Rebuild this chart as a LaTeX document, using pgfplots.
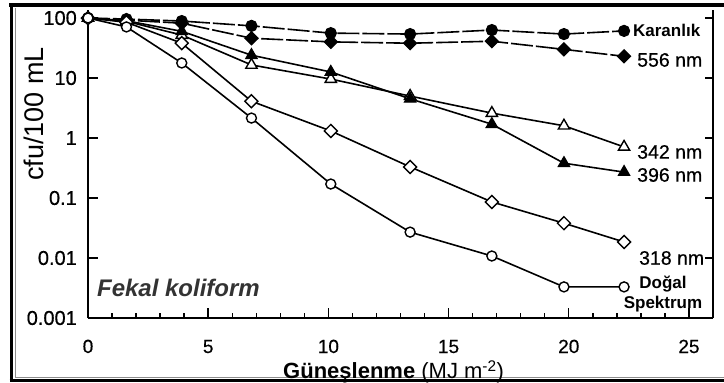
\documentclass[border=0pt]{standalone}
\usepackage{pgfplots}
\usepackage{pgfplotstable}
\pgfplotsset{compat=1.18}
\usepackage{fontspec}
\setmainfont{Liberation Sans}
\newfontfamily\heavy{Liberation Sans}[FakeBold=0.5]

% Survival of faecal coliforms versus cumulative insolation
\pgfplotstableread{
x    dark  g556  g342  g396  g318    sun
0    100   100   100   100   100     100
1.6  96    92    88    90    85      71
3.9  89    82    52    60    38      17.8
6.8  74    46    16.5  24    4.1     2.15
10.1 56    40    9.6   12.6  1.31    0.171
13.4 54    38    5.0   4.5   0.33    0.027
16.8 63    41    2.6   1.7   0.086   0.0108
19.8 54    30    1.6   0.38  0.038   0.0033
22.3 61    23    0.71  0.27  0.0185  0.0033
}\coliform

\newcommand{\fs}[1]{\fontsize{#1bp}{#1bp}\selectfont}

\begin{document}
\begin{tikzpicture}
\path[use as bounding box] (0,0) rectangle (724bp,383bp);
\fill[white] (0,0) rectangle (724bp,383bp);
% frame around the figure
\draw[black, line width=4bp] (9bp,377.5bp) -- (724bp,377.5bp);
\draw[black, line width=3bp] (11bp,379bp) -- (11bp,1bp);
\draw[black, line width=3bp] (9.5bp,2bp) -- (724bp,2bp);
\draw[black!45, line width=0.8bp] (15bp,375bp) -- (15bp,6bp) -- (724bp,6bp);

\begin{axis}[
  at={(88bp,65bp)}, anchor=south west,
  scale only axis, width=625bp, height=308bp,
  xmin=0, xmax=26, ymode=log, ymin=0.001, ymax=136,
  axis line style={line width=1.8bp, black},
  tick style={line width=1.4bp, black},
  tick align=inside,
  ytick={0.001,0.01,0.1,1,10,100},
  yminorticks=false,
  clip=false,
  /pgf/number format/assume math mode=true,
  axis x line*=bottom, axis y line*=left,
  major tick length=10bp, minor tick length=5bp,
  xtick={0,5,10,15,20,25}, xticklabels={0,5,10,15,20,25},
  minor x tick num=4,
  yticklabels={0.001,0.01,0.1,1,10,100},
  xticklabel style={inner sep=0pt, anchor=base, yshift=-35bp, font=\heavy\fs{19}},
  yticklabel style={inner sep=0pt, anchor=east, xshift=-11bp, font=\heavy\fs{20}},
  every axis y label/.style={at={(axis description cs:0,0.662)}, xshift=-54bp,
    rotate=90, anchor=center, font=\fs{27}},
  every axis x label/.style={at={(axis description cs:0.312,0)}, yshift=-54bp,
    anchor=west, inner sep=0pt, font=\fs{22}},
  ylabel={cfu/100 mL},
  xlabel={\textbf{Güneşlenme} (MJ m\textsuperscript{-2})},
  every axis plot/.append style={line width=1.6bp, black},
]
\addplot[dash pattern=on 22bp off 3bp, mark=*, mark size=5.5bp,
  mark options={solid, fill=black, line width=1.2bp}] table[x=x, y=dark]{\coliform};
\addplot[dash pattern=on 22bp off 3bp, mark=square*, mark size=4.6bp,
  mark options={solid, rotate=45, fill=black, line width=1.2bp}] table[x=x, y=g556]{\coliform};
\addplot[mark=triangle*, mark size=6.5bp,
  mark options={fill=white, line width=1.4bp}] table[x=x, y=g342]{\coliform};
\addplot[mark=triangle*, mark size=6.5bp,
  mark options={fill=black, line width=1.2bp}] table[x=x, y=g396]{\coliform};
\addplot[mark=square*, mark size=4.6bp,
  mark options={rotate=45, fill=white, line width=1.4bp}] table[x=x, y=g318]{\coliform};
\addplot[mark=*, mark size=5bp,
  mark options={fill=white, line width=1.4bp}] table[x=x, y=sun]{\coliform};

% series names beside the last points
\node[anchor=west, inner sep=0pt, font=\fs{17}\bfseries] at (axis cs:22.67,61) {Karanlık};
\node[anchor=west, inner sep=0pt, font=\heavy\fs{19.5}] at (axis cs:22.84,20) {556 nm};
\node[anchor=west, inner sep=0pt, font=\heavy\fs{19.5}] at (axis cs:22.84,0.585) {342 nm};
\node[anchor=west, inner sep=0pt, font=\heavy\fs{19.5}] at (axis cs:22.84,0.242) {396 nm};
\node[anchor=west, inner sep=0pt, font=\heavy\fs{19.5}] at (axis cs:22.92,0.01) {318 nm};
\node[align=center, inner sep=0pt, font=\fontsize{17bp}{19.5bp}\selectfont\bfseries]
  at (axis cs:23.92,0.00251) {Doğal\\Spektrum};
\node[anchor=west, inner sep=0pt, font=\fs{24}\bfseries\itshape, text=black!80]
  at (axis cs:0.37,0.00316) {Fekal koliform};
\end{axis}

% right-hand spine with its own decade ticks
\begin{axis}[
  at={(88bp,65bp)}, anchor=south west,
  scale only axis, width=625bp, height=308bp,
  xmin=0, xmax=26, ymode=log, ymin=0.001, ymax=136,
  axis line style={line width=1.8bp, black},
  tick style={line width=1.4bp, black},
  tick align=inside,
  axis x line=none, axis y line*=right,
  major tick length=8bp,
  ytick={0.001,0.01,0.1,1,10,100}, yticklabels={},
  yminorticks=false,
]
\end{axis}
\end{tikzpicture}
\end{document}
